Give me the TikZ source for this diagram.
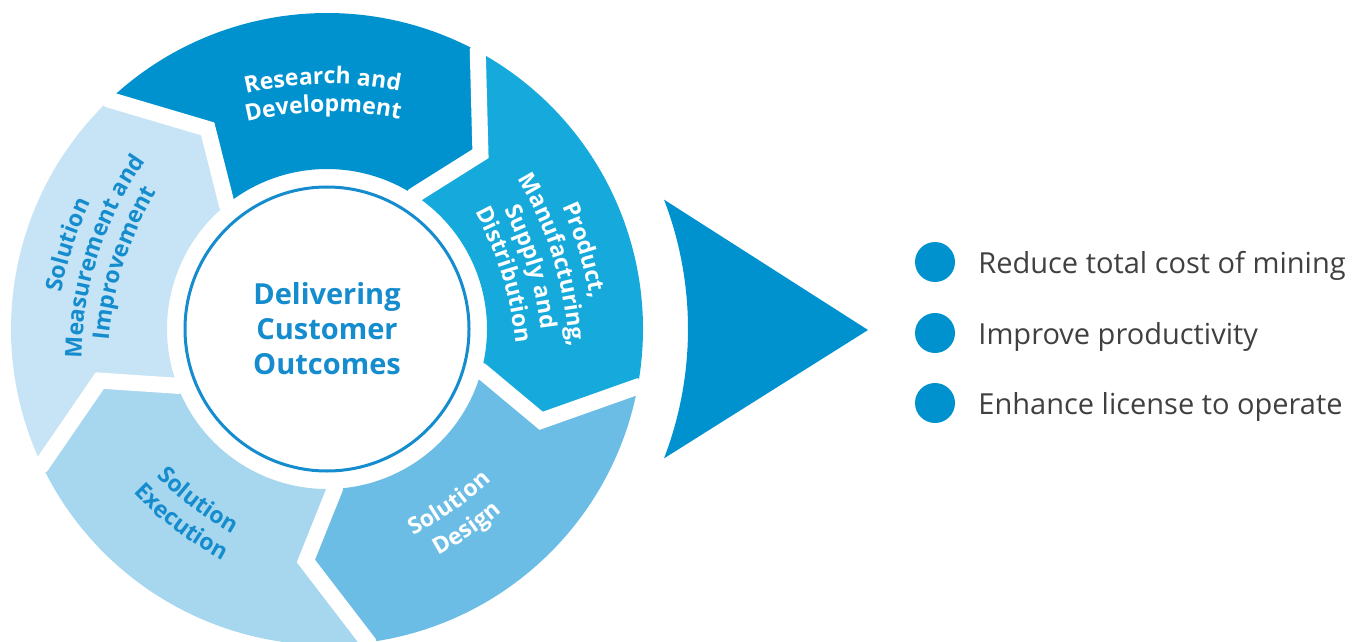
\documentclass[tikz,border=0pt]{standalone}
\usepackage{fontspec}
\setmainfont{Open Sans}
\usetikzlibrary{decorations.text}
\definecolor{cRD}{RGB}{0,146,207}
\definecolor{cPM}{RGB}{22,170,220}
\definecolor{cSD}{RGB}{107,189,229}
\definecolor{cSE}{RGB}{167,214,239}
\definecolor{cSM}{RGB}{198,228,245}
\definecolor{cTxt}{RGB}{20,140,205}
\definecolor{cGray}{RGB}{64,64,64}
\newcommand\segfont{\fontsize{23}{28}\selectfont\bfseries}
% text on a gently curved arc, clockwise (tops outward)
\newcommand\arcCW[3]{\path[shift={(#1:#2-350)}, decorate,
  decoration={text along path, text align=center, text={#3}}]
  (#1+22:350) arc[start angle=#1+22, end angle=#1-22, radius=350];}
% counter-clockwise (tops inward)
\newcommand\arcCCW[3]{\path[shift={(#1:#2-350)}, decorate,
  decoration={text along path, text align=center, text={#3}}]
  (#1-22:350) arc[start angle=#1-22, end angle=#1+22, radius=350];}
\begin{document}
\begin{tikzpicture}[x=1pt,y=1pt,
  gap/.style={white, line width=16pt, line join=miter},
  bullet/.style={circle, fill=cRD, minimum size=40pt, inner sep=0pt},
  btext/.style={anchor=base west, inner sep=0pt, text=cGray, font=\fontsize{29}{34}\selectfont}]
\useasboundingbox (0,0) rectangle (1370,641);
\coordinate (C) at (327,312);
\begin{scope}[shift={(C)}]
  % segments
  \fill[cRD] (133.5:316) arc[start angle=133.5, end angle=61.5, radius=316]
     -- (48.8:233) -- (56.8:160) arc[start angle=56.8, end angle=128.8, radius=160]
     -- (120.8:233) -- cycle;
  \fill[cPM] (61.5:316) arc[start angle=61.5, end angle=-10.5, radius=316]
     -- (-23.2:233) -- (-15.2:160) arc[start angle=-15.2, end angle=56.8, radius=160]
     -- (48.8:233) -- cycle;
  \fill[cSD] (-10.5:316) arc[start angle=-10.5, end angle=-82.5, radius=316]
     -- (-95.2:233) -- (-87.2:160) arc[start angle=-87.2, end angle=-15.2, radius=160]
     -- (-23.2:233) -- cycle;
  \fill[cSE] (277.5:316) arc[start angle=277.5, end angle=205.5, radius=316]
     -- (192.8:233) -- (200.8:160) arc[start angle=200.8, end angle=272.8, radius=160]
     -- (264.8:233) -- cycle;
  \fill[cSM] (205.5:316) arc[start angle=205.5, end angle=133.5, radius=316]
     -- (120.8:233) -- (128.8:160) arc[start angle=128.8, end angle=200.8, radius=160]
     -- (192.8:233) -- cycle;
  % white gaps between segments
  \draw[gap] (133.5:330) -- (133.5:316) -- (120.8:233) -- (128.8:160) -- (128.8:150);
  \draw[gap] (61.5:330) -- (61.5:316) -- (48.8:233) -- (56.8:160) -- (56.8:150);
  \draw[gap] (-10.5:330) -- (-10.5:316) -- (-23.2:233) -- (-15.2:160) -- (-15.2:150);
  \draw[gap] (-82.5:330) -- (-82.5:316) -- (-95.2:233) -- (-87.2:160) -- (-87.2:150);
  \draw[gap] (-154.5:330) -- (-154.5:316) -- (-167.2:233) -- (-159.2:160) -- (-159.2:150);
  % hub
  \node[circle, draw=cTxt, line width=3pt, fill=white, minimum size=284pt,
        align=center, text=cTxt, font=\fontsize{29}{35}\selectfont\bfseries] (hub) at (0,0)
        {Delivering\\Customer\\Outcomes};
  % segment labels
  \arcCW{91}{245}{|\segfont\color{white}|Research and}
  \arcCW{91}{217}{|\segfont\color{white}|Development}
  \arcCW{17}{264}{|\segfont\color{white}|Product,}
  \arcCW{17}{237}{|\segfont\color{white}|Manufacturing,}
  \arcCW{17}{210}{|\segfont\color{white}|Supply and}
  \arcCW{17}{183}{|\segfont\color{white}|Distribution}
  \arcCW{162}{267}{|\segfont\color{cTxt}|Solution}
  \arcCW{162}{240}{|\segfont\color{cTxt}|Measurement and}
  \arcCW{162}{213}{|\segfont\color{cTxt}|Improvement}
  \arcCCW{-55}{222}{|\segfont\color{white}|Solution}
  \arcCCW{-55}{252}{|\segfont\color{white}|Design}
  \arcCCW{-127}{224}{|\segfont\color{cTxt}|Solution}
  \arcCCW{-127}{252}{|\segfont\color{cTxt}|Execution}
  % big arrow head
  \fill[cRD] (21:361) -- (541,-1) -- (-21:361) arc[start angle=-21, end angle=21, radius=361] -- cycle;
\end{scope}
% outcomes
\node[bullet] (b1) at (935,379) {};
\node[bullet] (b2) at (935,308) {};
\node[bullet] (b3) at (935,238) {};
\node[btext] (t1) at ([xshift=23pt,yshift=-11pt]b1.east) {Reduce total cost of mining};
\node[btext] (t2) at ([xshift=23pt,yshift=-11pt]b2.east) {Improve productivity};
\node[btext] (t3) at ([xshift=23pt,yshift=-11pt]b3.east) {Enhance license to operate};
\end{tikzpicture}
\end{document}
